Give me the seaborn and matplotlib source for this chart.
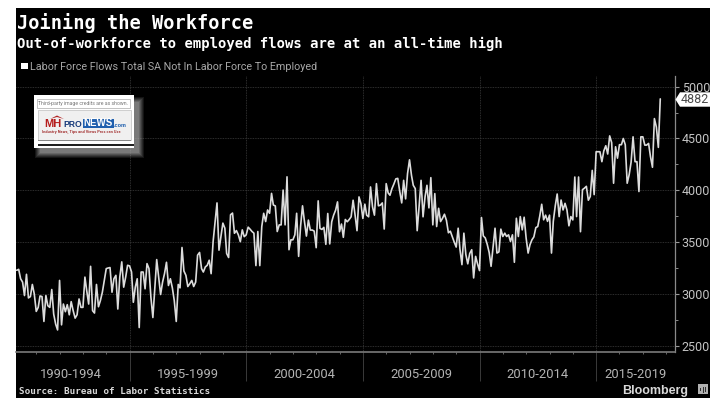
import numpy as np
import pandas as pd
import matplotlib
matplotlib.use('Agg')
import matplotlib.pyplot as plt
import matplotlib.dates as mdates
from matplotlib.patches import Rectangle, Polygon
import seaborn as sns

# monthly flows, thousands
flows_1990_94 = [3228, 3237, 3146, 3114, 2984, 3189, 2961, 2974, 3091, 3000,
                 2831, 2870, 2980, 2974, 2734, 2984, 2886, 2870, 3042, 2805, 2708, 2652, 3130, 2701,
                 2902, 2828, 2896, 2798, 2925, 2838, 2766, 2798, 2951, 2870, 2870, 3162,
                 3032, 2902, 3266, 2838, 2815, 3091, 2876, 2935, 3016, 3130, 3244, 3250,
                 3254, 3016, 3146, 3179, 2854, 3162, 3309, 3065, 3162, 3276]
flows_1995_99 = [3270, 3211, 2919, 3065, 3146, 2675, 3211, 3211, 3049, 3292, 3244, 2968,
                 2772, 3065, 3331, 3162, 2994, 3114, 3195, 3305, 3081, 3146, 3058, 2935,
                 2734, 3091, 3058, 3448, 3221, 3179, 3071, 3098, 3130, 3071, 3114, 3374,
                 3400, 3244, 3211, 3260, 3276, 3325, 3195, 3504, 3699, 3878, 3422, 3552,
                 3683, 3634, 3390, 3351, 3764, 3780, 3585, 3611, 3569, 3504, 3618, 3552]
flows_2000_04 = [3570, 3644, 3625, 3602, 3586, 3273, 3602, 3273, 3650, 3778, 3698, 3810,
                 3778, 3970, 3858, 3849, 3602, 3666, 3666, 4002, 3666, 4130, 3426, 3522,
                 3522, 3570, 3778, 3362, 3650, 3850, 3700, 3558, 3712, 3616, 3616, 3606,
                 3446, 3898, 3632, 3622, 3642, 3478, 3776, 3482, 3696, 3760, 3808, 3888,
                 3600, 3674, 3546, 3718, 3696, 3718, 3744, 3904, 3760, 3610, 3936, 3872]
flows_2005_09 = [3728, 3866, 3760, 3744, 4032, 3840, 3760, 4064, 3850, 3856, 3878, 3626,
                 4064, 3974, 3952, 4016, 4060, 4110, 4115, 3990, 3878, 4096, 3917, 4160,
                 4294, 4144, 4048, 4016, 3610, 3850, 4096, 3744, 3936, 4048, 3830, 4122,
                 3666, 3968, 3650, 3826, 3698, 3730, 3769, 3710, 3590, 3605, 3550, 3500,
                 3452, 3634, 3430, 3282, 3586, 3380, 3290, 3390, 3426, 3154, 3362, 3290]
flows_2010_14 = [3225, 3737, 3560, 3540, 3480, 3400, 3266, 3450, 3634, 3394, 3405, 3625,
                 3554, 3586, 3554, 3570, 3506, 3570, 3305, 3730, 3554, 3746, 3618, 3740,
                 3538, 3394, 3474, 3522, 3550, 3640, 3650, 3750, 3865, 3715, 3760, 3700,
                 3760, 3394, 3700, 3850, 3964, 3746, 3906, 3810, 3874, 3810, 3657, 3746,
                 3714, 4128, 3746, 4128, 3600, 4006, 4020, 4038, 3904, 3940, 4192, 3958]
flows_2015_17 = [4372, 4372, 4372, 4276, 4380, 4430, 4350, 4525, 4460, 4068, 4420, 4310,
                 4440, 4440, 4500, 4440, 4068, 4150, 4270, 4516, 4276, 4276, 3988, 4516,
                 4516, 4436, 4436, 4452, 4324, 4222, 4692, 4610, 4414, 4882]

period_labels = ['1990-1994', '1995-1999', '2000-2004', '2005-2009', '2010-2014', '2015-2019']
period_centers = ['1992-07-01', '1997-07-01', '2002-07-01', '2007-07-01', '2012-07-01', '2016-09-01']
y_ticks = [2500, 3000, 3500, 4000, 4500, 5000]

flows = flows_1990_94 + flows_1995_99 + flows_2000_04 + flows_2005_09 + flows_2010_14 + flows_2015_17
df = pd.DataFrame({'month': pd.date_range('1990-03-01', periods=len(flows), freq='MS'), 'flows': flows})

sns.set_theme(style='dark')
plt.rcParams['font.family'] = ['Roboto', 'DejaVu Sans']

W, H = 724, 415
fig = plt.figure(figsize=(W / 100, H / 100), dpi=100, facecolor='white')


def px_axes(left, top, right, bottom, **kw):
    return fig.add_axes([left / W, 1 - bottom / H, (right - left) / W, (bottom - top) / H], **kw)


# black card behind everything
back = px_axes(0, 0, W, H, zorder=0)
back.set_xlim(0, W)
back.set_ylim(H, 0)
back.axis('off')
back.add_patch(Rectangle((16, 8), 694, 390, color='black', lw=0))

ax = px_axes(16, 76, 674.7, 351.7, zorder=1)
ax.set_facecolor('none')
sns.lineplot(data=df, x='month', y='flows', ax=ax, color='#dcdcdc', lw=1.2, estimator=None)
ax.set_xlim(pd.Timestamp('1990-02-18'), pd.Timestamp('2018-05-15'))
ax.set_ylim(2442, 5103)
ax.set_xlabel('')
ax.set_ylabel('')

ax.yaxis.tick_right()
ax.set_yticks(y_ticks)
ax.set_yticks([2750, 3250, 3750, 4250, 4750], minor=True)
ax.set_yticklabels([str(v) for v in y_ticks])
ax.xaxis.set_major_locator(mdates.YearLocator(5))
ax.xaxis.set_minor_locator(mdates.YearLocator(1))
ax.set_xticklabels([])
ax.grid(True, which='major', color='#3c3c3c', lw=0.6, ls=(0, (1, 1)))
ax.tick_params(axis='y', which='major', length=3, width=0.8, color='#9a9a9a', labelcolor='#c4c4c4',
               labelsize=9, pad=2, right=True)
ax.tick_params(axis='y', which='minor', length=2, width=0.7, color='#8a8a8a', right=True)
ax.tick_params(axis='x', which='major', length=21, width=0.6, color='#444444', bottom=True)
ax.tick_params(axis='x', which='minor', length=1.5, width=0.6, color='#777777', bottom=True)
for side in ['top', 'left']:
    ax.spines[side].set_visible(False)
ax.spines['bottom'].set_color('#7a7a7a')
ax.spines['bottom'].set_linewidth(1.2)
ax.spines['right'].set_color('#8a8a8a')
ax.spines['right'].set_linewidth(0.9)

for lab, c in zip(period_labels, period_centers):
    ax.text(pd.Timestamp(c), -0.082, lab, transform=ax.get_xaxis_transform(), ha='center', va='center',
            color='#b4b4b4', fontsize=9.4)

# everything drawn on top in pixel coords
top = px_axes(0, 0, W, H, zorder=2)
top.set_xlim(0, W)
top.set_ylim(H, 0)
top.axis('off')
top.patch.set_alpha(0)

top.text(17, 29, 'Joining the Workforce', family='DejaVu Sans Mono', weight='bold', fontsize=13.4,
         color='white', va='baseline')
top.text(17, 48, 'Out-of-workforce to employed flows are at an all-time high', family='DejaVu Sans Mono',
         weight='bold', fontsize=10, color='white', va='baseline')
top.add_patch(Rectangle((21, 63), 6.5, 6.5, color='white', lw=0))
top.text(30, 70.5, 'Labor Force Flows Total SA Not In Labor Force To Employed', color='#a8a8a8',
         fontsize=7.75, va='baseline')
top.text(19, 394, 'Source: Bureau of Labor Statistics', family='DejaVu Sans Mono', weight='bold',
         fontsize=6.7, color='#d8d8d8', va='baseline')
top.text(622, 393.5, 'Bloomberg', family='Liberation Sans', weight='bold', fontsize=9, color='#d8d8d8',
         va='baseline')
top.add_patch(Rectangle((698, 384), 10, 10, color='#b0b0b0', lw=0))
for bx, bh in zip([700, 702.5, 705], [3.5, 6, 4.5]):
    top.add_patch(Rectangle((bx, 389.5 - bh / 2), 1.4, bh, color='#303030', lw=0))

# last value tag
top.add_patch(Polygon([(675.5, 99.5), (680, 92.3), (710, 92.3), (710, 106.7), (680, 106.7)], color='white', lw=0))
top.text(694.5, 99.7, '4882', ha='center', va='center', color='#4a4a4a', fontsize=9)

# pasted credit box with soft shadow
for g, a in zip([5, 4, 3, 2, 1, 0], [0.12, 0.14, 0.16, 0.2, 0.25, 0.3]):
    top.add_patch(Rectangle((40 - g, 102 - g), 100 + 2 * g - 1, 52 + 2 * g - 1, color='#a8a8a8', alpha=a, lw=0))
top.add_patch(Rectangle((34, 95), 100, 53.5, color='white', lw=0))
top.add_patch(Rectangle((37, 98.5), 93, 9, fc='white', ec='#b8b8b8', lw=0.6))
top.text(83.5, 103, 'Third-party image credits are as shown.', ha='center', va='center', fontsize=3.7,
         color='#777777')
top.add_patch(Rectangle((37.5, 110), 93, 30, fc='#f0f0f0', ec='#c8c8c8', lw=0.6))
top.add_patch(Rectangle((37.5, 139.5), 93, 1.8, color='#8a8a8a', lw=0))
top.add_patch(Rectangle((37.5, 144), 96.5, 1.8, color='#222222', lw=0))
top.add_patch(Polygon([(50, 119), (57, 115.5), (64, 119), (57, 117)], color='#b22222', lw=0))
top.text(44, 127, 'MH', family='Liberation Sans', weight='bold', fontsize=8, color='#b51c1c', va='baseline')
top.text(63, 127, 'PRO', family='Liberation Sans', weight='bold', fontsize=6.2, color='#173a7a', va='baseline')
top.add_patch(Rectangle((82.5, 118.5), 31, 9.5, color='#1f5fae', lw=0))
top.text(98, 123.4, 'NEWS', family='Liberation Sans', weight='bold', fontsize=7, color='white',
         ha='center', va='center')
top.text(114, 127, '.com', family='Liberation Sans', weight='bold', fontsize=4, color='#1f5fae', va='baseline')
top.text(81, 132.3, 'Industry News, Tips and Views Pros can Use', ha='center', va='center', fontsize=2.8,
         weight='bold', color='#a33030')

plt.savefig('out.png', dpi=100, facecolor='white')
